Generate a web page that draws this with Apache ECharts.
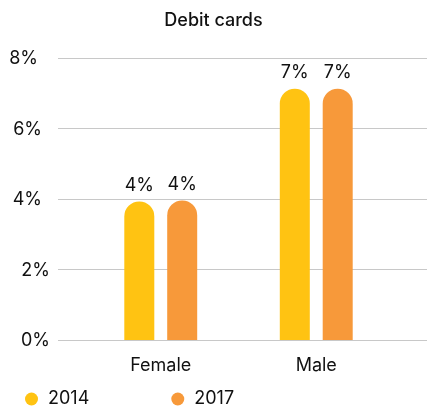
<!DOCTYPE html>
<html><head><meta charset="utf-8">
<script src="https://cdn.jsdelivr.net/npm/echarts@6/dist/echarts.min.js"></script>
<style>html,body{margin:0;padding:0;background:#fff}#c{width:427px;height:410px}</style>
</head><body><div id="c"></div>
<script>
const categories = ['Female', 'Male'];
const series2014 = [3.93, 7.13];
const series2017 = [3.96, 7.13];
const seriesNames = ['2014', '2017'];
const yTicks = [0, 2, 4, 6, 8];

const FONT = 'Inter';
const TXT = '#111111';
const chart = echarts.init(document.getElementById('c'));
const labelCfg = {show: true, position: 'top', distance: 7, color: TXT, fontSize: 18, fontFamily: FONT,
  formatter: p => Math.round(p.value) + '%'};
const tickPad = {8: 'p12', 6: 'p8', 4: 'p8', 2: 'p0', 0: 'p0'};
chart.setOption({
  animation: false,
  title: {text: 'Debit cards', left: 'center', top: 7, textStyle: {fontFamily: FONT, fontSize: 18, fontWeight: 500, color: TXT}},
  legend: {data: seriesNames, left: 20, top: 385, icon: 'circle', itemWidth: 13, itemHeight: 13, itemGap: 82,
    textStyle: {fontFamily: FONT, fontSize: 18, color: TXT, padding: [0, 0, 0, 5]}},
  grid: [
    {left: 58, right: 0, top: 58, bottom: 70},
    {left: 83, right: 33, top: 58, bottom: 70}
  ],
  xAxis: [
    {type: 'category', gridIndex: 0, data: categories, show: false},
    {type: 'category', gridIndex: 1, data: categories, axisLine: {show: false}, axisTick: {show: false},
      axisLabel: {fontFamily: FONT, fontSize: 18, color: TXT, margin: 17}}
  ],
  yAxis: [
    {type: 'value', gridIndex: 0, min: yTicks[0], max: yTicks[yTicks.length - 1], interval: 2,
      axisLabel: {formatter: v => '{' + (tickPad[v] || 'p0') + '|' + v + '%}', margin: 8,
        rich: {
          p0: {fontFamily: FONT, fontSize: 18, color: TXT, padding: [2, 0, 0, 0]},
          p8: {fontFamily: FONT, fontSize: 18, color: TXT, padding: [2, 8, 0, 0]},
          p12: {fontFamily: FONT, fontSize: 18, color: TXT, padding: [2, 12, 0, 0]}
        }},
      splitLine: {lineStyle: {color: '#c8c8c8', width: 1}}, axisLine: {show: false}, axisTick: {show: false}},
    {type: 'value', gridIndex: 1, min: yTicks[0], max: yTicks[yTicks.length - 1], interval: 2, show: false, splitLine: {show: false}}
  ],
  series: [
    {name: seriesNames[0], type: 'bar', xAxisIndex: 1, yAxisIndex: 1, data: series2014, barWidth: 30, barGap: '43%',
      itemStyle: {color: '#FFC312', borderRadius: [15, 15, 0, 0]}, label: labelCfg},
    {name: seriesNames[1], type: 'bar', xAxisIndex: 1, yAxisIndex: 1, data: series2017, barWidth: 30,
      itemStyle: {color: '#F7993A', borderRadius: [15, 15, 0, 0]}, label: labelCfg}
  ]
});
</script></body></html>
